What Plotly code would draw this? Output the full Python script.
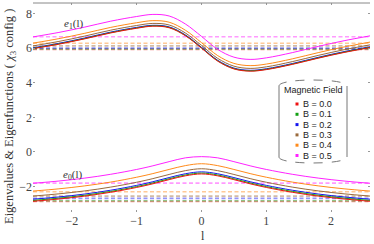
import plotly.graph_objects as go

# ---------------- data ----------------
l_values = [-2.6, -2.2, -1.8, -1.4, -1.0, -0.75, -0.5, -0.25, 0.0, 0.25, 0.5, 0.75, 1.0, 1.4, 1.8, 2.2, 2.6]
B_labels = ["0.0", "0.1", "0.2", "0.3", "0.4", "0.5"]
colors = ["#ee1111", "#13a013", "#1515ee", "#9a6a3c", "#ff8a1a", "#ff22ff"]

e1_B00 = [5.97, 6.23, 6.54, 6.88, 7.15, 7.27, 7.18, 6.72, 6.00, 5.25, 4.80, 4.67, 4.76, 5.06, 5.42, 5.75, 6.03]
e1_B01 = [5.99, 6.25, 6.56, 6.90, 7.17, 7.29, 7.20, 6.74, 6.02, 5.27, 4.82, 4.69, 4.78, 5.08, 5.44, 5.77, 6.05]
e1_B02 = [6.02, 6.28, 6.59, 6.93, 7.20, 7.32, 7.23, 6.77, 6.05, 5.30, 4.85, 4.72, 4.81, 5.11, 5.47, 5.80, 6.08]
e1_B03 = [6.13, 6.39, 6.70, 7.04, 7.31, 7.43, 7.34, 6.88, 6.16, 5.41, 4.96, 4.83, 4.92, 5.22, 5.58, 5.91, 6.19]
e1_B04 = [6.29, 6.55, 6.86, 7.20, 7.47, 7.59, 7.50, 7.04, 6.32, 5.57, 5.12, 4.99, 5.08, 5.38, 5.74, 6.07, 6.35]
e1_B05 = [6.65, 6.91, 7.22, 7.56, 7.83, 7.95, 7.86, 7.40, 6.68, 5.93, 5.48, 5.35, 5.44, 5.74, 6.10, 6.43, 6.71]

e0_B00 = [-2.85, -2.72, -2.55, -2.33, -2.05, -1.84, -1.60, -1.38, -1.27, -1.38, -1.60, -1.84, -2.05, -2.33, -2.55, -2.72, -2.85]
e0_B01 = [-2.80, -2.67, -2.50, -2.28, -2.00, -1.79, -1.55, -1.33, -1.22, -1.33, -1.55, -1.79, -2.00, -2.28, -2.50, -2.67, -2.80]
e0_B02 = [-2.73, -2.60, -2.43, -2.21, -1.93, -1.72, -1.48, -1.26, -1.15, -1.26, -1.48, -1.72, -1.93, -2.21, -2.43, -2.60, -2.73]
e0_B03 = [-2.55, -2.42, -2.25, -2.03, -1.75, -1.54, -1.30, -1.08, -0.97, -1.08, -1.30, -1.54, -1.75, -2.03, -2.25, -2.42, -2.55]
e0_B04 = [-2.26, -2.13, -1.96, -1.74, -1.46, -1.25, -1.01, -0.79, -0.68, -0.79, -1.01, -1.25, -1.46, -1.74, -1.96, -2.13, -2.26]
e0_B05 = [-1.81, -1.68, -1.51, -1.29, -1.01, -0.80, -0.56, -0.34, -0.27, -0.34, -0.56, -0.80, -1.01, -1.29, -1.51, -1.68, -1.81]

e1_asymptotes = [5.93, 5.95, 6.00, 6.13, 6.28, 6.66]
e0_asymptotes = [-2.86, -2.82, -2.68, -2.55, -2.30, -1.80]

x_ticks = [-2, -1, 0, 1, 2]
y_ticks = [-2, 0, 2, 4, 6, 8]

e1_curves = [e1_B00, e1_B01, e1_B02, e1_B03, e1_B04, e1_B05]
e0_curves = [e0_B00, e0_B01, e0_B02, e0_B03, e0_B04, e0_B05]

# ---------------- layout helpers ----------------
W, H = 374, 244
ML, MR, MT, MB = 33, 4, 3, 32
PW, PH = W - ML - MR, H - MT - MB


def px(x):
    return (x - ML) / PW


def py(y):
    return (H - MB - y) / PH


fig = go.Figure()

# dashed asymptote lines
for asy in (e1_asymptotes, e0_asymptotes):
    for v, c in zip(asy, colors):
        fig.add_trace(go.Scatter(
            x=[l_values[0], l_values[-1]], y=[v, v], mode="lines",
            line=dict(color=c, width=1.6, dash="4px,2.5px"), opacity=0.45,
            showlegend=False, hoverinfo="skip"))

# curves
for curves in (e1_curves, e0_curves):
    for ys, c in reversed(list(zip(curves, colors))):
        fig.add_trace(go.Scatter(
            x=l_values, y=ys, mode="lines",
            line=dict(color=c, width=1.0, shape="spline", smoothing=1.0),
            showlegend=False, hoverinfo="skip"))

serif = "Liberation Serif"
sans = "Liberation Sans"

fig.update_layout(
    width=W, height=H,
    margin=dict(l=ML, r=MR, t=MT, b=MB, autoexpand=False),
    paper_bgcolor="white", plot_bgcolor="white",
    showlegend=False,
    font=dict(family=serif, size=11, color="#444"),
)

fig.update_xaxes(
    range=[-2.6, 2.6], tickvals=x_ticks,
    ticktext=[("\u2212" + str(-t)) if t < 0 else str(t) for t in x_ticks],
    showgrid=False, zeroline=False, showline=False, automargin=False,
    ticks="inside", ticklen=2, tickcolor="#999", mirror="ticks",
    tickfont=dict(family=serif, size=12, color="#444"),
)
fig.update_yaxes(
    range=[-3.47, 8.61], tickvals=y_ticks,
    ticktext=[("\u2212" + str(-t)) if t < 0 else str(t) for t in y_ticks],
    showgrid=False, zeroline=False, showline=False, automargin=False,
    ticks="inside", ticklen=2, tickcolor="#999", mirror="ticks",
    tickfont=dict(family=serif, size=12, color="#444"),
)

shapes = []
# top frame line
shapes.append(dict(type="line", xref="paper", yref="paper", x0=0, x1=1, y0=1, y1=1,
                   line=dict(color="#888", width=1)))

# legend box (rounded "cylinder")
Lx0, Lx1, Ly0, Ly1 = 279, 347, 80, 163
shapes.append(dict(type="line", xref="paper", yref="paper", x0=px(Lx0), x1=px(Lx0),
                   y0=py(Ly0 + 6), y1=py(Ly1 - 6), line=dict(color="#777", width=1)))
shapes.append(dict(type="line", xref="paper", yref="paper", x0=px(Lx1), x1=px(Lx1),
                   y0=py(Ly0 + 6), y1=py(Ly1 - 6), line=dict(color="#777", width=1)))
top_arc = "M {a},{b} C {a},{c} {d},{c} {d},{b}".format(
    a=px(Lx0), b=py(Ly0 + 6), c=py(Ly0 - 2), d=px(Lx1))
bot_arc = "M {a},{b} C {a},{c} {d},{c} {d},{b}".format(
    a=px(Lx0), b=py(Ly1 - 6), c=py(Ly1 + 2), d=px(Lx1))
shapes.append(dict(type="path", xref="paper", yref="paper", path=top_arc,
                   line=dict(color="#777", width=1, dash="dash")))
shapes.append(dict(type="path", xref="paper", yref="paper", path=bot_arc,
                   line=dict(color="#777", width=1, dash="dash")))

annotations = []
annotations.append(dict(text="Magnetic Field", xref="paper", yref="paper",
                        x=px((Lx0 + Lx1) / 2), y=py(90), showarrow=False,
                        xanchor="center", yanchor="middle",
                        font=dict(family=sans, size=9, color="#222")))
entry_y = [104, 114.3, 124.6, 134.9, 145.2, 155.5]
for lab, c, yy in zip(B_labels, colors, entry_y):
    shapes.append(dict(type="rect", xref="paper", yref="paper",
                       x0=px(295.5), x1=px(298.5), y0=py(yy - 1.5), y1=py(yy + 1.5),
                       fillcolor=c, line=dict(width=0)))
    annotations.append(dict(text="B = " + lab, xref="paper", yref="paper",
                            x=px(301), y=py(yy), showarrow=False,
                            xanchor="left", yanchor="middle",
                            font=dict(family=sans, size=9, color="#222")))

# curve labels
annotations.append(dict(text="<i>e</i><sub>1</sub>(l)", xref="paper", yref="paper",
                        x=px(73), y=py(24), showarrow=False, xanchor="center", yanchor="middle",
                        font=dict(family=serif, size=11, color="#333")))
annotations.append(dict(text="<i>e</i><sub>0</sub>(l)", xref="paper", yref="paper",
                        x=px(72), y=py(175), showarrow=False, xanchor="center", yanchor="middle",
                        font=dict(family=serif, size=11, color="#333")))

# axis titles
annotations.append(dict(text="Eigenvalues &amp; Eigenfunctions ( <i>\u03c7</i><sub>3</sub> config )",
                        xref="paper", yref="paper", x=px(10), y=py(117), showarrow=False,
                        textangle=-90, xanchor="center", yanchor="middle",
                        font=dict(family=serif, size=12.5, color="#333")))
annotations.append(dict(text="l", xref="paper", yref="paper", x=px(203), y=py(236),
                        showarrow=False, xanchor="center", yanchor="middle",
                        font=dict(family=serif, size=12, color="#333")))

fig.update_layout(shapes=shapes, annotations=annotations)

fig.write_html("out.html", config={"displayModeBar": False},
               post_script="document.body.style.margin='0px';")
